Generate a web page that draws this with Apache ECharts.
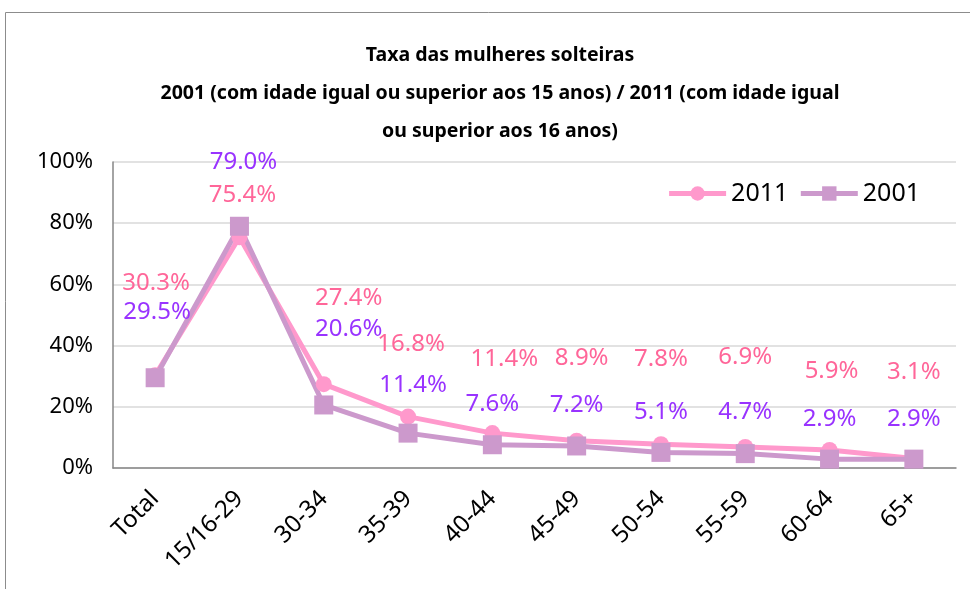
<!DOCTYPE html>
<html>
<head>
<meta charset="utf-8">
<script src="https://cdn.jsdelivr.net/npm/echarts@6/dist/echarts.min.js"></script>
<style>
  html, body { margin: 0; padding: 0; background: #fff; }
  #chart { width: 970px; height: 589px; }
</style>
</head>
<body>
<div id="chart"></div>
<script>
const categories = ['Total', '15/16-29', '30-34', '35-39', '40-44', '45-49', '50-54', '55-59', '60-64', '65+'];
const values2011 = [0.303, 0.754, 0.274, 0.168, 0.114, 0.089, 0.078, 0.069, 0.059, 0.031];
const values2001 = [0.295, 0.790, 0.206, 0.114, 0.076, 0.072, 0.051, 0.047, 0.029, 0.029];
const yTicks = [0, 0.2, 0.4, 0.6, 0.8, 1];

// label placement relative to the point [dx, dy] in px (hand-placed in the original)
const labelShift2011 = [[1, -92], [3, -42], [25, -86], [3, -72], [12, -74], [5, -83], [0, -85], [0, -90], [2, -79], [0, -86]];
const labelShift2001 = [[2, -66], [4, -64], [25, -76], [5, -48], [0, -41], [0, -41], [0, -40], [0, -41], [0, -40], [0, -40]];

const font = '"Noto Sans", sans-serif';
const pct = v => (v * 100).toFixed(1) + '%';

function withLabels(vals, shifts) {
  return vals.map((v, i) => ({ value: v, label: { offset: shifts[i] } }));
}

const chart = echarts.init(document.getElementById('chart'));
chart.setOption({
  animation: false,
  textStyle: { fontFamily: font },
  title: {
    text: 'Taxa das mulheres solteiras\n2001 (com idade igual ou superior aos 15 anos) / 2011 (com idade igual\nou superior aos 16 anos)',
    left: 495,
    textAlign: 'center',
    top: 31,
    textStyle: { fontSize: 19.5, fontWeight: 'bold', color: '#000', lineHeight: 38, fontFamily: font }
  },
  graphic: [{
    type: 'rect',
    shape: { x: 5.5, y: 12.5, width: 1000, height: 700 },
    style: { fill: null, stroke: '#8c8c8c', lineWidth: 1 },
    silent: true
  }],
  legend: {
    right: 45,
    top: 176,
    itemWidth: 57,
    itemHeight: 18,
    itemGap: 10,
    lineStyle: { width: 5 },
    textStyle: { fontSize: 25, color: '#000', fontFamily: font },
    data: ['2011', '2001']
  },
  grid: { left: 113, right: 14, top: 162, bottom: 121 },
  xAxis: {
    type: 'category',
    data: categories,
    axisLine: { lineStyle: { color: '#868686', width: 1.5 } },
    axisTick: { show: false },
    axisLabel: { rotate: 45, fontSize: 24, color: '#000', margin: 27 }
  },
  yAxis: {
    type: 'value',
    min: yTicks[0],
    max: yTicks[yTicks.length - 1],
    interval: 0.2,
    axisLine: { show: true, lineStyle: { color: '#868686', width: 1.5 } },
    axisTick: { show: false },
    splitLine: { lineStyle: { color: '#d9d9d9', width: 1.5 } },
    axisLabel: { fontSize: 22, color: '#000', margin: 20, formatter: v => Math.round(v * 100) + '%' }
  },
  series: [
    {
      name: '2011',
      type: 'line',
      data: withLabels(values2011, labelShift2011),
      symbol: 'circle',
      symbolSize: 16,
      itemStyle: { color: '#ff99cc' },
      lineStyle: { color: '#ff99cc', width: 5 },
      label: {
        show: true, position: 'inside', fontSize: 24, color: '#ff6699',
        formatter: p => pct(p.value)
      }
    },
    {
      name: '2001',
      type: 'line',
      data: withLabels(values2001, labelShift2001),
      symbol: 'rect',
      symbolSize: 19,
      itemStyle: { color: '#cc99cc' },
      lineStyle: { color: '#cc99cc', width: 5 },
      label: {
        show: true, position: 'inside', fontSize: 24, color: '#9933ff',
        formatter: p => pct(p.value)
      }
    }
  ]
});
</script>
</body>
</html>
